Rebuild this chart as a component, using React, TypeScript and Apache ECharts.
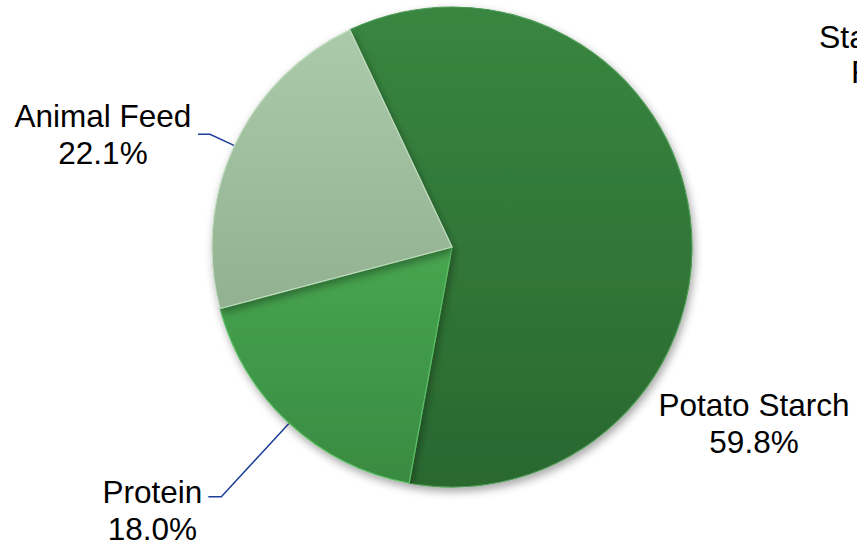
import React, { useEffect, useRef } from 'react';
import * as echarts from 'echarts';

const categories = ['Potato Starch', 'Protein', 'Animal Feed'];
const shares = [59.8, 18.0, 22.1];
const titleLines = ['Starch Potato', 'Fractions'];

const FONT = 'Liberation Sans, Arial, sans-serif';

const grad = (top: string, bottom: string) =>
  new echarts.graphic.LinearGradient(0, 0, 0, 1, [
    { offset: 0, color: top },
    { offset: 1, color: bottom },
  ]);

const sliceFills = [
  ['#388640', '#2a682f'],
  ['#47a650', '#398a41'],
  ['#abcaa9', '#91b191'],
];
const sliceBorders = ['#4f9a56', '#5cbf65', '#c3dcc1'];
const labelWidths = [196, 102, 180];
const labelPadTop = [0, 28, 0];
const lineLengths = [0, 100, 27];
const lineLengths2 = [0, 13, 12];

export default function App() {
  const ref = useRef<HTMLDivElement>(null);
  useEffect(() => {
    if (!ref.current) return;
    const chart = echarts.init(ref.current, undefined, { renderer: 'svg' });
    const data = categories.map((name, i) => ({
      name,
      value: shares[i],
      itemStyle: {
        color: grad(sliceFills[i][0], sliceFills[i][1]),
        borderColor: sliceBorders[i],
        borderWidth: 1.2,
      },
      label: {
        padding: [labelPadTop[i], 0, 0, 0],
        rich: {
          a: {
            width: labelWidths[i],
            align: 'center',
            fontSize: 31.5,
            lineHeight: 37,
            fontFamily: FONT,
            color: '#000',
          },
        },
      },
      labelLine: {
        show: i !== 0,
        length: lineLengths[i],
        length2: lineLengths2[i],
      },
    }));
    chart.setOption({
      animation: false,
      backgroundColor: '#fff',
      graphic: titleLines.map((t, i) => ({
        type: 'text',
        x: i === 0 ? 819 : 851,
        y: i === 0 ? 37 : 72,
        style: {
          text: t,
          fontSize: 32,
          fontFamily: FONT,
          fill: '#000',
          align: 'left',
          verticalAlign: 'middle',
        },
      })),
      series: [
        {
          type: 'pie',
          center: [452, 247],
          radius: 240,
          startAngle: 115.2,
          clockwise: true,
          avoidLabelOverlap: false,
          itemStyle: {
            shadowBlur: 8,
            shadowOffsetX: 2,
            shadowOffsetY: 4,
            shadowColor: 'rgba(0,0,0,0.35)',
          },
          label: {
            show: true,
            position: 'outside',
            formatter: (p: any) => `{a|${p.name}}\n{a|${p.value.toFixed(1)}%}`,
          },
          labelLine: {
            lineStyle: { color: '#1d3f9a', width: 1.5 },
          },
          labelLayout: (p: any) =>
            p.dataIndex === 0
              ? { x: 754, y: 423, align: 'center', verticalAlign: 'middle' }
              : {},
          emphasis: { disabled: true },
          data,
        },
      ],
    });
    return () => chart.dispose();
  }, []);
  return (
    <div
      ref={ref}
      style={{ position: 'absolute', left: 0, top: 0, width: 857, height: 552 }}
    />
  );
}
